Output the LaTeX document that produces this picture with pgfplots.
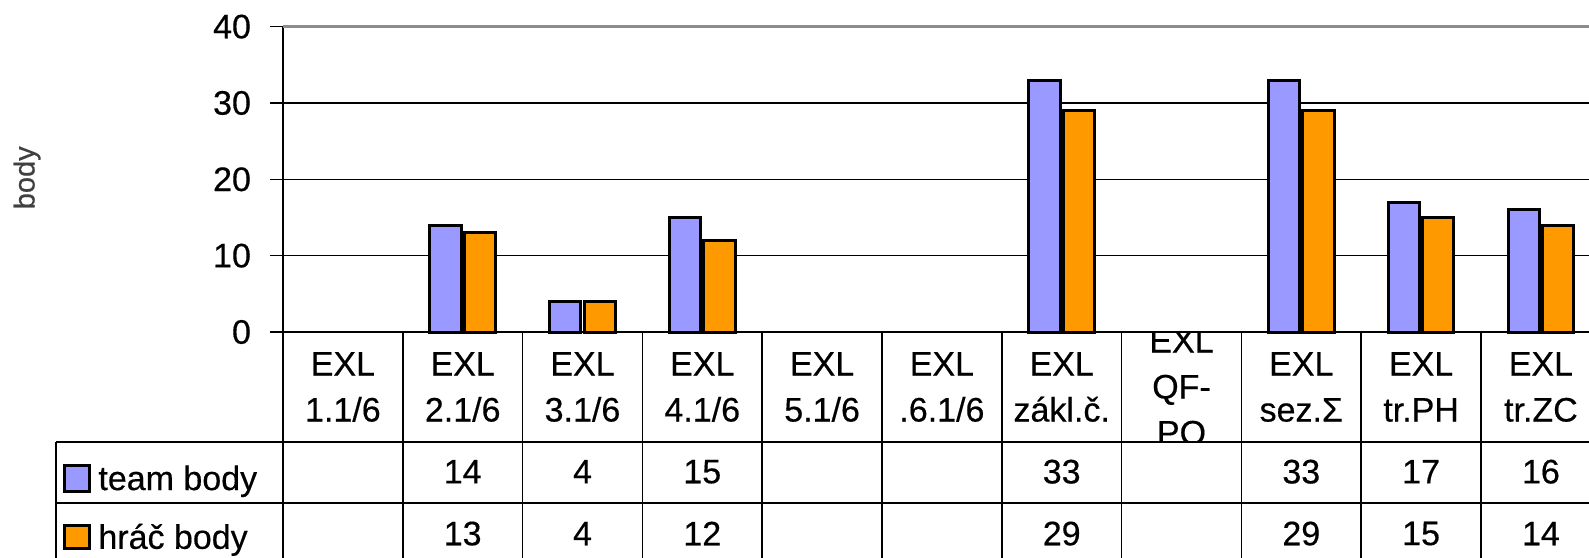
\documentclass[border=0pt]{standalone}
\usepackage{pgfplots}
\pgfplotsset{compat=1.18}
\usepackage{pgfplotstable}
\usepackage{fontspec}
\setmainfont{Liberation Sans}[FakeBold=0.4]
\newfontfamily\heavy{Liberation Sans}[FakeBold=0.4]

\definecolor{teamblue}{HTML}{9999FF}
\definecolor{hracorange}{HTML}{FF9900}
\newcommand\chartfont{\heavy\fontsize{17}{23}\selectfont}

% points per round; nan = no entry
\pgfplotstableread{
x team hrac
0 nan nan
1 14 13
2 4 4
3 15 12
4 nan nan
5 nan nan
6 33 29
7 nan nan
8 33 29
9 17 15
10 16 14
}\scores

\begin{document}
\begin{tikzpicture}
\begin{axis}[
    x=59.9pt, y=3.8175pt,
    xmin=-0.5, xmax=10.401, ymin=0, ymax=40,
    clip=false,
    axis lines*=left,
    axis line style={black, line width=0.8pt},
    ytick={0,10,20,30,40},
    ymajorgrids,
    grid style={black, line width=0.8pt},
    tick align=outside,
    major tick length=6.5pt,
    tick style={black, line width=0.8pt},
    xtick={0,...,10},
    xtick style={draw=none},
    xticklabels={{EXL\\1.1/6},{EXL\\2.1/6},{EXL\\3.1/6},{EXL\\4.1/6},{EXL\\5.1/6},
        {EXL\\.6.1/6},{EXL\\zákl.č.},{},{EXL\\sez.Σ},{EXL\\tr.PH},{EXL\\tr.ZC}},
    xticklabel style={align=center, anchor=center, inner sep=0pt, font=\chartfont, yshift=-21pt},
    yticklabel style={font=\chartfont, xshift=-6pt},
    /pgf/number format/assume math mode=true,
    ylabel={body},
    ylabel style={at={(rel axis cs:-0.196,0.505)}, anchor=center,
        font=\fontsize{14.5}{16}\selectfont, text=black!75},
]
% table grid
\pgfplotsinvokeforeach{-0.5,0.5,1.5,2.5,3.5,4.5,5.5,6.5,7.5,8.5,9.5}{
    \draw[black, line width=0.8pt] (axis cs:#1,0) -- (axis cs:#1,-31);
}
\draw[black, line width=0.8pt] (axis cs:-2.395,-14.41) -- (axis cs:10.6,-14.41);
\draw[black, line width=0.8pt] (axis cs:-2.395,-22.40) -- (axis cs:10.6,-22.40);
\draw[black, line width=0.8pt] (axis cs:-2.395,-14.41) -- (axis cs:-2.395,-31);
\draw[black!45, line width=1.5pt] (axis cs:-0.5,40) -- (axis cs:10.6,40);

\addplot[ybar, bar width=0.26, bar shift=-0.144, fill=teamblue, draw=black, line width=1.5pt]
    table[x=x, y=team] {\scores};
\addplot[ybar, bar width=0.26, bar shift=0.144, fill=hracorange, draw=black, line width=1.5pt]
    table[x=x, y=hrac] {\scores};

% values in the data table rows
\addplot[draw=none, mark=none, nodes near coords, nodes near coords align=center,
    point meta=explicit symbolic,
    every node near coord/.append style={anchor=center, font=\chartfont}]
    table[x=x, y expr=\thisrow{team}*0-18.3, meta=team] {\scores};
\addplot[draw=none, mark=none, nodes near coords, nodes near coords align=center,
    point meta=explicit symbolic,
    every node near coord/.append style={anchor=center, font=\chartfont}]
    table[x=x, y expr=\thisrow{hrac}*0-26.4, meta=hrac] {\scores};

% legend keys inside the table
\draw[black, line width=1.5pt, fill=teamblue] (axis cs:-2.328,-17.55) rectangle (axis cs:-2.119,-20.83);
\draw[black, line width=1.5pt, fill=hracorange] (axis cs:-2.328,-25.28) rectangle (axis cs:-2.119,-28.42);
\node[anchor=base west, inner sep=0pt, font=\chartfont] at (axis cs:-2.044,-20.7) {team body};
\node[anchor=base west, inner sep=0pt, font=\chartfont] at (axis cs:-2.044,-28.4) {hráč body};

\coordinate (BL) at (rel axis cs:0,0);
\coordinate (qfA) at (axis cs:6.5,0);
\coordinate (qfB) at (axis cs:7.5,-14.41);
\coordinate (qfC) at (axis cs:7,-7.2);
\end{axis}
\begin{scope}
    \clip (qfA) rectangle (qfB);
    \node[align=center, inner sep=0pt, font=\chartfont] at (qfC) {EXL\\QF-\\PO};
\end{scope}
\pgfresetboundingbox
\path[use as bounding box] ([shift={(-141.5pt,-112.5pt)}]BL) rectangle ([shift={(653pt,166pt)}]BL);
\end{tikzpicture}
\end{document}
